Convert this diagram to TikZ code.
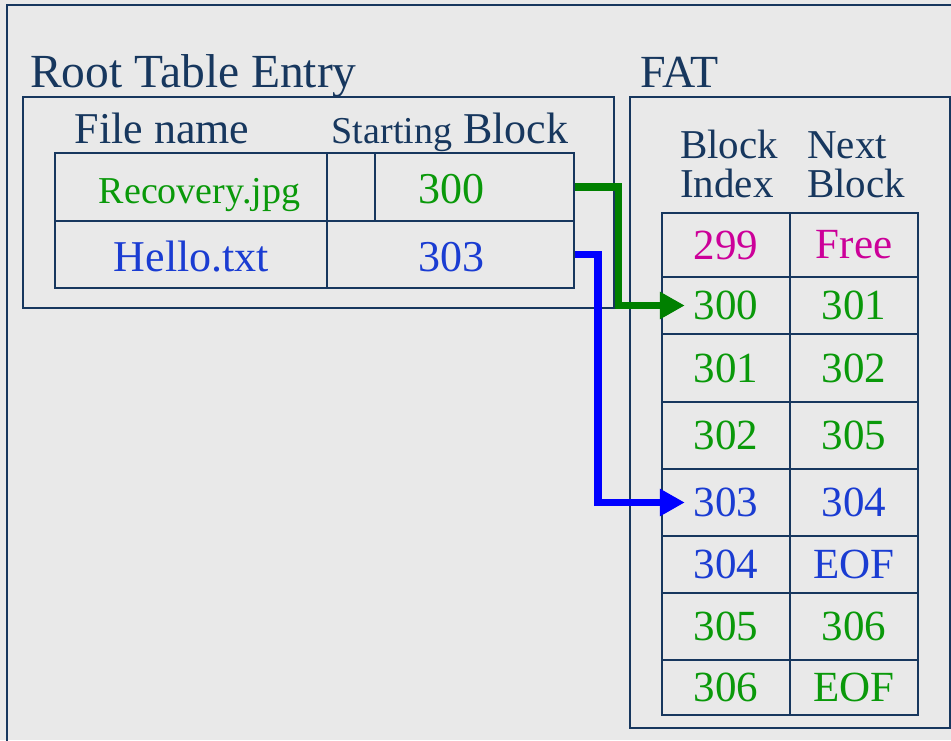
\documentclass[tikz,border=0pt]{standalone}
\usepackage{fontspec}
\setmainfont{Liberation Serif}
\usetikzlibrary{arrows.meta}
\definecolor{navy}{HTML}{17375E}
\definecolor{bgray}{HTML}{E9E9E9}
\definecolor{tgreen}{HTML}{0A990A}
\definecolor{tblue}{HTML}{1A3CD2}
\definecolor{tmag}{HTML}{CC0099}
\definecolor{agreen}{HTML}{008000}
\definecolor{ablue}{HTML}{0000FF}
\newcommand{\fs}[1]{\fontsize{#1}{#1}\selectfont}
\begin{document}
\begin{tikzpicture}[x=1pt,y=-1pt,
  frame/.style={draw=navy,line width=2.5pt},
  cellbox/.style={draw=navy,line width=2.5pt,inner sep=0pt,minimum width=#1},
  txt/.style={inner sep=0pt,text=navy},
  fatcell/.style={draw=navy,line width=2.5pt,inner sep=0pt,minimum width=128pt,font=\fs{43}},
  link/.style={line width=7.5pt,line join=miter,-{Triangle[length=25pt,width=26pt]}}]
% page and outer frame
\fill[bgray] (0,0) rectangle (951,740);
\useasboundingbox (0,0) rectangle (951,740);
\draw[frame] (7,745) -- (7,5) -- (960,5);

% root table entry
\node[txt,anchor=base west,font=\fs{47.5}] (roottitle) at (30,87) {Root Table Entry};
\draw[frame] (23,97) rectangle (614,308);
\node[txt,anchor=base,font=\fs{44}] (hname) at (162,143) {File name};
\node[txt,anchor=base,font=\fs{44}] (hstart) at (450,143) {{\fs{38}Starting} Block};

\node[cellbox=272pt,minimum height=68pt] (n1) at (191,187) {};
\node[cellbox=48pt,minimum height=68pt] (gap1) at (351,187) {};
\node[cellbox=199pt,minimum height=68pt] (s300) at (474.5,187) {};
\node[cellbox=272pt,minimum height=67pt] (n2) at (191,254.5) {};
\node[cellbox=247pt,minimum height=67pt] (s303) at (450.5,254.5) {};

\node[inner sep=0pt,anchor=base,text=tgreen,font=\fs{38}] (recov) at (199.5,203) {Recovery.jpg};
\node[inner sep=0pt,anchor=base,text=tgreen,font=\fs{44}] (v300) at (451,203) {300};
\node[inner sep=0pt,anchor=base,text=tblue,font=\fs{44}] (hello) at (191.5,271) {Hello.txt};
\node[inner sep=0pt,anchor=base,text=tblue,font=\fs{44}] (v303) at (451,271) {303};

% FAT
\node[txt,anchor=base west,font=\fs{46}] (fattitle) at (640,87) {FAT};
\draw[frame] (630,97) rectangle (950,728);
\node[txt,anchor=base west,font=\fs{41}] (hblk) at (680,158) {Block};
\node[txt,anchor=base west,font=\fs{41}] (hidx) at (680,197) {Index};
\node[txt,anchor=base west,font=\fs{41}] (hnxt) at (807,158) {Next};
\node[txt,anchor=base west,font=\fs{41}] (hblk2) at (807,197) {Block};

\node[fatcell,minimum height=64pt,text=tmag] (i299) at (726,245) {299};
\node[fatcell,minimum height=64pt,text=tmag] (x299) at (854,245) {Free};
\node[fatcell,minimum height=57pt,text=tgreen] (i300) at (726,305.5) {300};
\node[fatcell,minimum height=57pt,text=tgreen] (x300) at (854,305.5) {301};
\node[fatcell,minimum height=68pt,text=tgreen] (i301) at (726,368) {301};
\node[fatcell,minimum height=68pt,text=tgreen] (x301) at (854,368) {302};
\node[fatcell,minimum height=67pt,text=tgreen] (i302) at (726,435.5) {302};
\node[fatcell,minimum height=67pt,text=tgreen] (x302) at (854,435.5) {305};
\node[fatcell,minimum height=67pt,text=tblue] (i303) at (726,502.5) {303};
\node[fatcell,minimum height=67pt,text=tblue] (x303) at (854,502.5) {304};
\node[fatcell,minimum height=57pt,text=tblue] (i304) at (726,564.5) {304};
\node[fatcell,minimum height=57pt,text=tblue] (x304) at (854,564.5) {EOF};
\node[fatcell,minimum height=67pt,text=tgreen] (i305) at (726,626.5) {305};
\node[fatcell,minimum height=67pt,text=tgreen] (x305) at (854,626.5) {306};
\node[fatcell,minimum height=55pt,text=tgreen] (i306) at (726,687.5) {306};
\node[fatcell,minimum height=55pt,text=tgreen] (x306) at (854,687.5) {EOF};

% links from starting blocks into the FAT
\draw[link,agreen] (s300.east) -- ++(43,0) |- ([xshift=24pt]i300.west);
\draw[link,ablue] (s303.east) -- ++(22.5,0) |- ([xshift=24pt]i303.west);
\end{tikzpicture}
\end{document}
